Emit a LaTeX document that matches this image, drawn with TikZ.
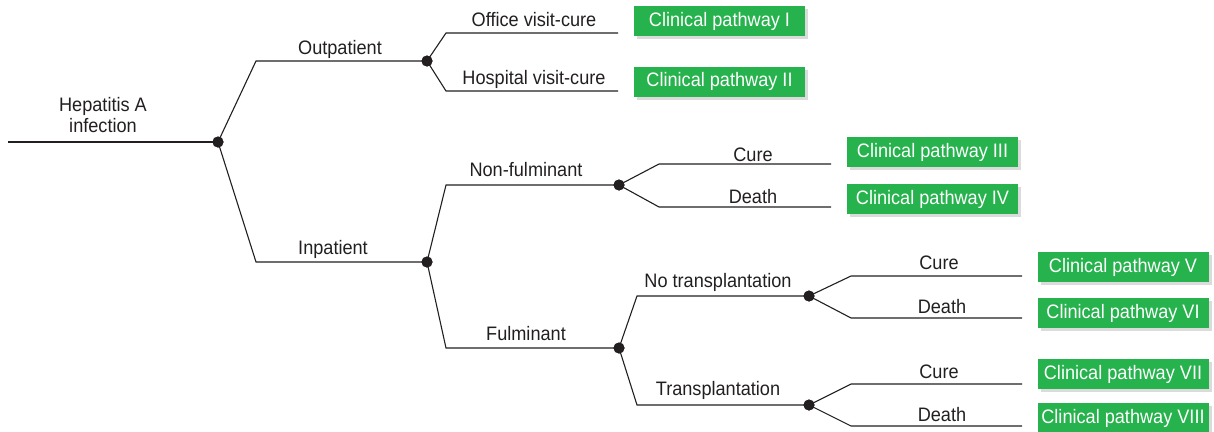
\documentclass[tikz,border=0pt]{standalone}
\usepackage{fontspec}
\setmainfont{Liberation Sans}[FakeStretch=0.93]
\usetikzlibrary{shadows}
\definecolor{boxgreen}{RGB}{38,178,76}
\definecolor{ink}{RGB}{35,31,32}
\tikzset{
  every picture/.style={x=1pt,y=-1pt},
  link/.style={draw=ink,line width=1.1pt},
  dot/.style={circle,fill=ink,inner sep=0pt,minimum size=11pt},
  lbl/.style={text=ink,font=\fontsize{19.5}{22}\selectfont,inner sep=0pt,anchor=base},
  pathbox/.style={fill=boxgreen,text=white,font=\fontsize{19.5}{22}\selectfont,
    minimum width=171pt,minimum height=30pt,inner sep=0pt,
    drop shadow={shadow xshift=3pt,shadow yshift=-3pt,fill=black!35,opacity=0.4}}
}
\begin{document}
\begin{tikzpicture}
\useasboundingbox (0,0) rectangle (1214,431);
% decision nodes
\node[dot] (root) at (218,142) {};
\node[dot] (out) at (427,61) {};
\node[dot] (inp) at (427,262) {};
\node[dot] (nonf) at (619,185) {};
\node[dot] (fulm) at (619,348) {};
\node[dot] (notr) at (809,296) {};
\node[dot] (tr) at (809,405) {};
% bend and end coordinates
\coordinate (start) at (8,142);
\coordinate (bOut) at (256,61);
\coordinate (bInp) at (256,262);
\coordinate (bOff) at (446,33);  \coordinate (eOff) at (618,33);
\coordinate (bHos) at (446,91);  \coordinate (eHos) at (618,91);
\coordinate (bNonf) at (446,185);
\coordinate (bFulm) at (446,348);
\coordinate (bC1) at (659,164); \coordinate (eC1) at (831,164);
\coordinate (bD1) at (659,207); \coordinate (eD1) at (831,207);
\coordinate (bNotr) at (637,296);
\coordinate (bTr) at (637,405);
\coordinate (bC2) at (851,276); \coordinate (eC2) at (1022,276);
\coordinate (bD2) at (851,318); \coordinate (eD2) at (1022,318);
\coordinate (bC3) at (851,384); \coordinate (eC3) at (1022,384);
\coordinate (bD3) at (851,426); \coordinate (eD3) at (1022,426);
% connectors
\draw[link] (start) -- (root.center);
\draw[link] (root.center) -- (bOut) -- (out.center);
\draw[link] (root.center) -- (bInp) -- (inp.center);
\draw[link] (out.center) -- (bOff) -- (eOff);
\draw[link] (out.center) -- (bHos) -- (eHos);
\draw[link] (inp.center) -- (bNonf) -- (nonf.center);
\draw[link] (inp.center) -- (bFulm) -- (fulm.center);
\draw[link] (nonf.center) -- (bC1) -- (eC1);
\draw[link] (nonf.center) -- (bD1) -- (eD1);
\draw[link] (fulm.center) -- (bNotr) -- (notr.center);
\draw[link] (fulm.center) -- (bTr) -- (tr.center);
\draw[link] (notr.center) -- (bC2) -- (eC2);
\draw[link] (notr.center) -- (bD2) -- (eD2);
\draw[link] (tr.center) -- (bC3) -- (eC3);
\draw[link] (tr.center) -- (bD3) -- (eD3);
% redraw dots on top
\foreach \d in {root,out,inp,nonf,fulm,notr,tr} \fill[ink] (\d.center) circle (5.5pt);
% labels
\node[lbl] (tHep) at (103,111) {Hepatitis A};
\node[lbl] (tInf) at (103,132) {infection};
\node[lbl] (tOut) at (340,54) {Outpatient};
\node[lbl] (tInp) at (333,254) {Inpatient};
\node[lbl] (tOff) at (534,26) {Office visit-cure};
\node[lbl] (tHos) at (534,84) {Hospital visit-cure};
\node[lbl] (tNonf) at (526,176) {Non-fulminant};
\node[lbl] (tFulm) at (526,340) {Fulminant};
\node[lbl] (tC1) at (753,161) {Cure};
\node[lbl] (tD1) at (753,203) {Death};
\node[lbl] (tNotr) at (718,287) {No transplantation};
\node[lbl] (tTr) at (718,395) {Transplantation};
\node[lbl] (tC2) at (939,269) {Cure};
\node[lbl] (tD2) at (942,313) {Death};
\node[lbl] (tC3) at (939,378) {Cure};
\node[lbl] (tD3) at (942,421) {Death};
% outcome boxes
\node[pathbox] (p1) at (719.5,21) {Clinical pathway I};
\node[pathbox] (p2) at (719.5,81.5) {Clinical pathway II};
\node[pathbox] (p3) at (932.5,152) {Clinical pathway III};
\node[pathbox] (p4) at (932.5,199) {Clinical pathway IV};
\node[pathbox] (p5) at (1123,267) {Clinical pathway V};
\node[pathbox] (p6) at (1123,313) {Clinical pathway VI};
\node[pathbox] (p7) at (1123,374) {Clinical pathway VII};
\node[pathbox] (p8) at (1123,418) {Clinical pathway VIII};
\end{tikzpicture}
\end{document}
